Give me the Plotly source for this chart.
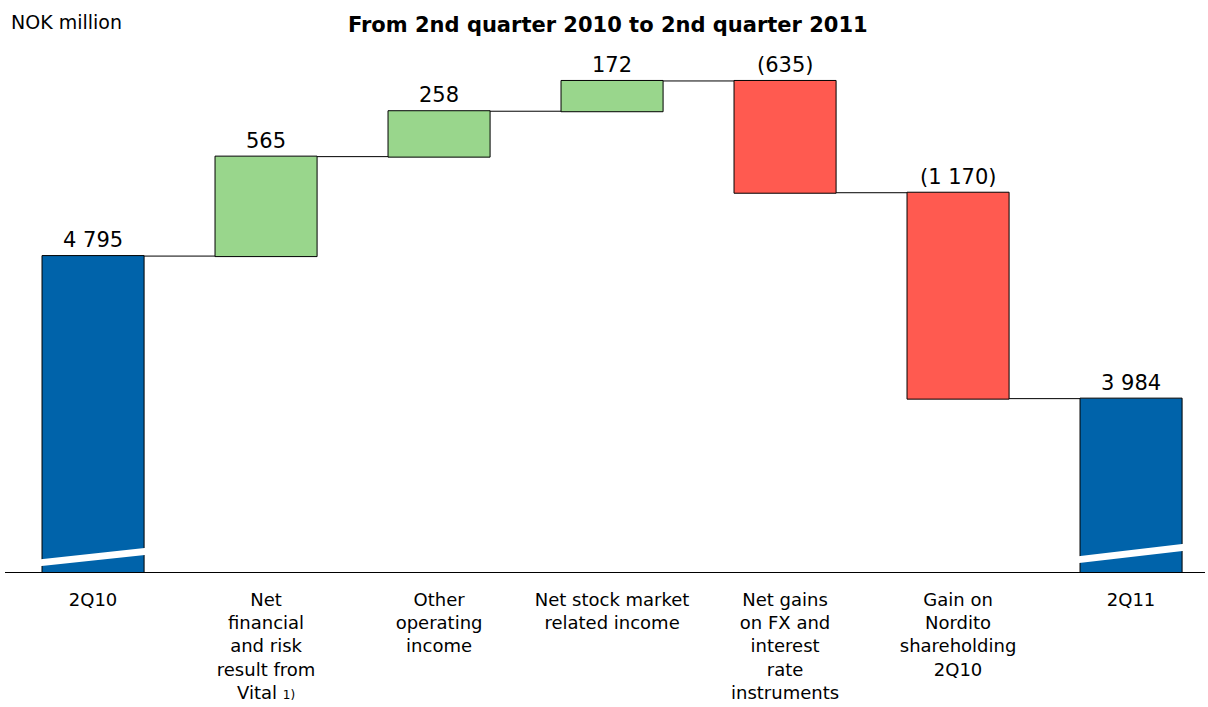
import plotly.graph_objects as go

# Bridge from 2Q10 to 2Q11 result (NOK million)
categories = [
    "2Q10",
    "Net<br>financial<br>and risk<br>result from<br>Vital <span style='font-size:12px'>1)</span>",
    "Other<br>operating<br>income",
    "Net stock market<br>related income",
    "Net gains<br>on FX and<br>interest<br>rate<br>instruments",
    "Gain on<br>Nordito<br>shareholding<br>2Q10",
    "2Q11",
]
values = [4795, 565, 258, 172, -635, -1170, 3984]
measures = ["absolute", "relative", "relative", "relative", "relative", "relative", "total"]
value_labels = ["4 795", "565", "258", "172", "(635)", "(1 170)", "3 984"]

BLUE = "#0063AA"
GREEN = "#99D68C"
RED = "#FF5A50"
FONT = "DejaVu Sans, Verdana, sans-serif"

AXIS_FLOOR = 3000          # value axis is cut here (broken axis)
PX_PER_UNIT = 0.176
PLOT_TOP, PLOT_BOTTOM = 50, 135
W, H = 1208, 707
x_left = -0.509
x_right = x_left + 1200 / 173.0
y_top = AXIS_FLOOR + (H - PLOT_TOP - PLOT_BOTTOM) / PX_PER_UNIT

# break-mark slash ends (value above the axis floor) for the two total bars
break_marks = {0: (49, 129), 6: (66, 153)}

fig = go.Figure(go.Waterfall(
    x=list(range(len(categories))),
    y=values,
    measure=measures,
    increasing=dict(marker=dict(color=GREEN, line=dict(color="black", width=1))),
    decreasing=dict(marker=dict(color=RED, line=dict(color="black", width=1))),
    totals=dict(marker=dict(color=BLUE, line=dict(color="black", width=1))),
    connector=dict(line=dict(color="black", width=1), mode="between"),
    textinfo="none",
    hoverinfo="skip",
))

# value labels above each bar (at the higher end of each step)
running = 0
for i, (v, m, lab) in enumerate(zip(values, measures, value_labels)):
    if m in ("absolute", "total"):
        start, end = 0, v
        running = v
    else:
        start, end = running, running + v
        running = end
    top = max(start, end)
    fig.add_annotation(x=i, y=top, text=lab, showarrow=False, yanchor="bottom",
                       yshift=2, font=dict(family=FONT, size=21, color="black"))

# white break marks on the total bars (axis does not start at zero)
for i, (lo, hi) in break_marks.items():
    fig.add_shape(type="line", xref="x", yref="y",
                  x0=i - 0.34, x1=i + 0.42,
                  y0=AXIS_FLOOR + lo, y1=AXIS_FLOOR + hi,
                  line=dict(color="white", width=7))

fig.add_annotation(text="<b>From 2nd quarter 2010 to 2nd quarter 2011</b>",
                   xref="paper", yref="paper", x=0.5025, y=1, yshift=25,
                   xanchor="center", yanchor="middle", showarrow=False,
                   font=dict(family=FONT, size=21, color="black"))
fig.add_annotation(text="NOK million", xref="paper", yref="paper",
                   x=0, xshift=4, y=1, yshift=28,
                   xanchor="left", yanchor="middle", showarrow=False,
                   font=dict(family=FONT, size=19, color="black"))

fig.update_layout(
    width=W, height=H,
    margin=dict(l=5, r=3, t=PLOT_TOP, b=PLOT_BOTTOM),
    paper_bgcolor="white", plot_bgcolor="white",
    showlegend=False,
    waterfallgap=0.41,
    font=dict(family=FONT, size=18, color="black"),
    xaxis=dict(
        range=[x_left, x_right],
        tickmode="array", tickvals=list(range(len(categories))), ticktext=categories,
        showline=True, linecolor="black", linewidth=1,
        showgrid=False, zeroline=False, ticks="",
        ticklabelstandoff=11,
        tickfont=dict(family=FONT, size=18, color="black"),
        tickangle=0,
        automargin=False,
    ),
    yaxis=dict(range=[AXIS_FLOOR, y_top], visible=False, showgrid=False,
               zeroline=False, automargin=False),
)

fig.write_html("out.html")
